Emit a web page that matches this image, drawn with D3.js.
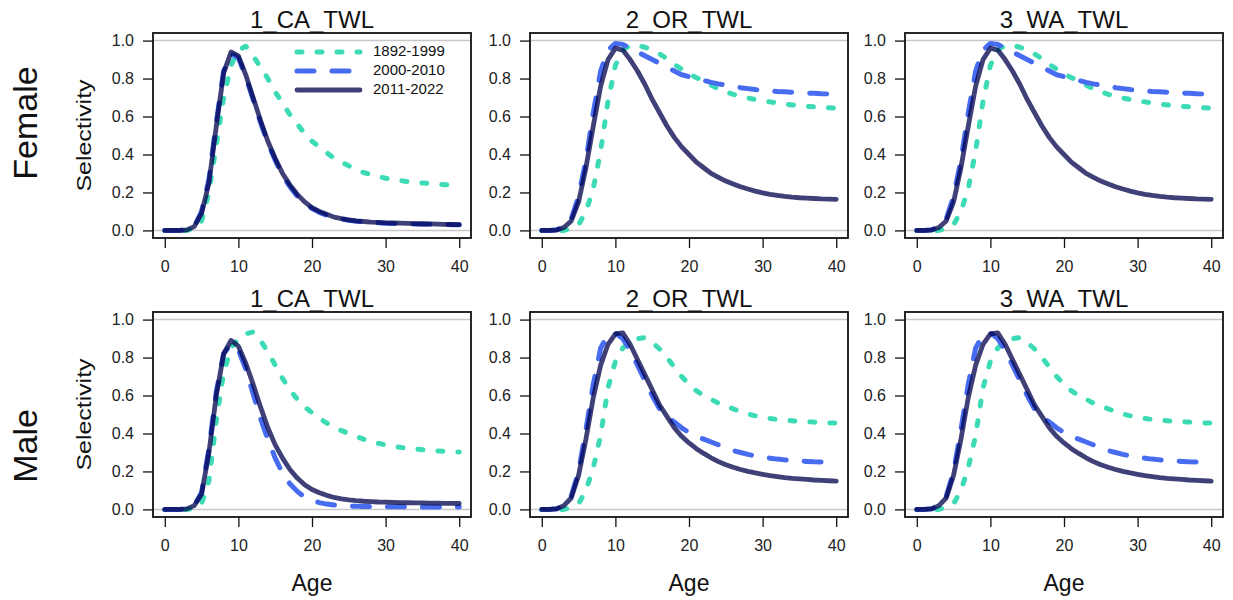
<!DOCTYPE html>
<html>
<head>
<meta charset="utf-8">
<script src="https://cdn.jsdelivr.net/npm/d3@7"></script>
<style>
  body { margin: 0; background: #fff; }
  text { font-family: "Liberation Sans", Arial, sans-serif; }
</style>
</head>
<body>
<svg width="1233" height="600"></svg>
<script>
var ages = d3.range(0, 41);
var periods = ["1892-1999", "2000-2010", "2011-2022"];
var fleets = ["1_CA_TWL", "2_OR_TWL", "3_WA_TWL"];
var sexes = ["Female", "Male"];
var yTicks = [0, 0.2, 0.4, 0.6, 0.8, 1.0];
var xTicks = [0, 10, 20, 30, 40];

// Female selectivity by age 0..40
var caF_1892 = [0,0,0,0,0.01,0.05,0.2,0.45,0.7,0.87,0.95,0.97,0.92,0.86,0.8,0.73,0.67,0.61,0.56,0.51,0.47,0.44,0.41,0.38,0.36,0.34,0.32,0.305,0.295,0.285,0.275,0.268,0.262,0.257,0.253,0.25,0.247,0.244,0.241,0.238,0.235];
var caF_2000 = [0,0,0,0.003,0.02,0.1,0.27,0.57,0.84,0.93,0.91,0.81,0.69,0.57,0.46,0.37,0.29,0.23,0.18,0.145,0.115,0.095,0.08,0.068,0.06,0.053,0.048,0.045,0.042,0.04,0.038,0.037,0.036,0.035,0.034,0.033,0.032,0.031,0.031,0.03,0.03];
var caF_2011 = [0,0,0,0.003,0.02,0.09,0.25,0.55,0.83,0.94,0.92,0.82,0.7,0.58,0.47,0.38,0.3,0.24,0.19,0.15,0.12,0.1,0.085,0.07,0.062,0.055,0.05,0.047,0.044,0.042,0.04,0.039,0.038,0.037,0.036,0.035,0.034,0.033,0.032,0.031,0.03];
var orF_1892 = [0,0,0,0,0.01,0.03,0.1,0.22,0.42,0.68,0.87,0.95,0.975,0.975,0.965,0.95,0.93,0.905,0.875,0.85,0.825,0.805,0.785,0.765,0.745,0.73,0.717,0.705,0.697,0.69,0.683,0.677,0.671,0.666,0.661,0.657,0.654,0.651,0.648,0.646,0.644];
var orF_2000 = [0,0,0.003,0.02,0.06,0.18,0.37,0.62,0.84,0.95,0.985,0.98,0.96,0.94,0.92,0.9,0.88,0.86,0.84,0.82,0.81,0.8,0.79,0.78,0.772,0.765,0.758,0.752,0.747,0.742,0.738,0.735,0.732,0.73,0.728,0.726,0.724,0.722,0.72,0.719,0.718];
var orF_2011 = [0,0,0.002,0.015,0.05,0.15,0.33,0.55,0.76,0.9,0.96,0.95,0.9,0.84,0.77,0.69,0.62,0.55,0.49,0.44,0.4,0.36,0.33,0.3,0.28,0.26,0.245,0.23,0.218,0.207,0.198,0.19,0.184,0.179,0.175,0.172,0.17,0.168,0.166,0.165,0.164];
var waF_1892 = [0,0,0,0,0.01,0.03,0.1,0.22,0.42,0.68,0.87,0.95,0.975,0.975,0.965,0.95,0.93,0.905,0.875,0.85,0.825,0.805,0.785,0.765,0.745,0.73,0.717,0.705,0.697,0.69,0.683,0.677,0.671,0.666,0.661,0.657,0.654,0.651,0.648,0.646,0.644];
var waF_2000 = [0,0,0.003,0.02,0.06,0.18,0.37,0.62,0.84,0.95,0.985,0.98,0.96,0.94,0.92,0.9,0.88,0.86,0.84,0.82,0.81,0.8,0.79,0.78,0.772,0.765,0.758,0.752,0.747,0.742,0.738,0.735,0.732,0.73,0.728,0.726,0.724,0.722,0.72,0.719,0.718];
var waF_2011 = [0,0,0.002,0.015,0.05,0.15,0.33,0.55,0.76,0.9,0.96,0.95,0.9,0.84,0.77,0.69,0.62,0.55,0.49,0.44,0.4,0.36,0.33,0.3,0.28,0.26,0.245,0.23,0.218,0.207,0.198,0.19,0.184,0.179,0.175,0.172,0.17,0.168,0.166,0.165,0.164];

// Male selectivity by age 0..40
var caM_1892 = [0,0,0,0,0.005,0.03,0.15,0.47,0.72,0.85,0.9,0.925,0.935,0.89,0.83,0.76,0.69,0.63,0.58,0.54,0.51,0.48,0.455,0.435,0.415,0.4,0.385,0.37,0.358,0.348,0.34,0.333,0.327,0.322,0.318,0.314,0.311,0.308,0.306,0.304,0.302];
var caM_2000 = [0,0,0,0.003,0.02,0.09,0.32,0.62,0.82,0.87,0.84,0.74,0.61,0.48,0.37,0.27,0.19,0.135,0.095,0.065,0.047,0.036,0.028,0.023,0.02,0.018,0.016,0.015,0.015,0.014,0.014,0.014,0.014,0.013,0.013,0.013,0.013,0.013,0.013,0.013,0.013];
var caM_2011 = [0,0,0,0.003,0.02,0.08,0.3,0.6,0.82,0.89,0.86,0.77,0.66,0.54,0.43,0.34,0.27,0.21,0.165,0.13,0.105,0.088,0.074,0.063,0.055,0.05,0.046,0.043,0.041,0.039,0.038,0.037,0.036,0.035,0.034,0.034,0.033,0.033,0.032,0.032,0.031];
var orM_1892 = [0,0,0,0,0.01,0.03,0.1,0.22,0.39,0.64,0.78,0.85,0.885,0.9,0.905,0.88,0.845,0.8,0.75,0.7,0.66,0.625,0.6,0.58,0.56,0.545,0.53,0.515,0.503,0.493,0.485,0.479,0.474,0.47,0.467,0.464,0.462,0.46,0.458,0.456,0.455];
var orM_2000 = [0,0,0.003,0.02,0.07,0.2,0.42,0.66,0.85,0.92,0.93,0.9,0.84,0.76,0.68,0.6,0.53,0.49,0.46,0.43,0.405,0.385,0.37,0.355,0.34,0.325,0.31,0.3,0.29,0.282,0.275,0.27,0.265,0.261,0.258,0.255,0.253,0.251,0.25,0.249,0.248];
var orM_2011 = [0,0,0.003,0.02,0.06,0.18,0.37,0.59,0.76,0.87,0.925,0.93,0.87,0.79,0.71,0.63,0.55,0.49,0.43,0.385,0.35,0.32,0.295,0.272,0.252,0.235,0.222,0.21,0.2,0.192,0.185,0.178,0.173,0.168,0.164,0.161,0.158,0.155,0.153,0.151,0.149];
var waM_1892 = [0,0,0,0,0.01,0.03,0.1,0.22,0.39,0.64,0.78,0.85,0.885,0.9,0.905,0.88,0.845,0.8,0.75,0.7,0.66,0.625,0.6,0.58,0.56,0.545,0.53,0.515,0.503,0.493,0.485,0.479,0.474,0.47,0.467,0.464,0.462,0.46,0.458,0.456,0.455];
var waM_2000 = [0,0,0.003,0.02,0.07,0.2,0.42,0.66,0.85,0.92,0.93,0.9,0.84,0.76,0.68,0.6,0.53,0.49,0.46,0.43,0.405,0.385,0.37,0.355,0.34,0.325,0.31,0.3,0.29,0.282,0.275,0.27,0.265,0.261,0.258,0.255,0.253,0.251,0.25,0.249,0.248];
var waM_2011 = [0,0,0.003,0.02,0.06,0.18,0.37,0.59,0.76,0.87,0.925,0.93,0.87,0.79,0.71,0.63,0.55,0.49,0.43,0.385,0.35,0.32,0.295,0.272,0.252,0.235,0.222,0.21,0.2,0.192,0.185,0.178,0.173,0.168,0.164,0.161,0.158,0.155,0.153,0.151,0.149];

var panels = [
  [[caF_1892, caF_2000, caF_2011], [orF_1892, orF_2000, orF_2011], [waF_1892, waF_2000, waF_2011]],
  [[caM_1892, caM_2000, caM_2011], [orM_1892, orM_2000, orM_2011], [waM_1892, waM_2000, waM_2011]]
];

var styles = [
  { color: "#3ddbb5", width: 5, dash: "5,15", opacity: 1 },
  { color: "#476cf0", width: 5, dash: "17,18", opacity: 1 },
  { color: "#00004b", width: 4.8, dash: null, opacity: 0.75 }
];

var svg = d3.select("svg"),
  colX = [153, 530, 905],
  rowY = [33, 312],
  sexY = [123, 446],
  pw = 318,
  ph = 205;

var x = d3.scaleLinear().domain([-1.6, 41.6]).range([0, pw]);
var y = d3.scaleLinear().domain([-0.04, 1.04]).range([ph, 0]);

var line = d3.line()
  .x(function(d, i) { return x(ages[i]); })
  .y(function(d) { return y(d); });

sexes.forEach(function(sex, r) {
  // big row label
  svg.append("text")
    .attr("transform", "translate(37," + sexY[r] + ")rotate(-90)")
    .attr("text-anchor", "middle")
    .style("font-size", "34px")
    .style("fill", "#111")
    .text(sex);

  fleets.forEach(function(fleet, c) {
    var g = svg.append("g")
      .attr("transform", "translate(" + colX[c] + "," + rowY[r] + ")");

    // reference lines at 0 and 1
    g.selectAll("line.ref")
      .data([0, 1])
      .enter()
      .append("line")
      .attr("class", "ref")
      .attr("x1", 0)
      .attr("x2", pw)
      .attr("y1", function(d) { return y(d); })
      .attr("y2", function(d) { return y(d); })
      .style("stroke", "#c8c8c8")
      .style("stroke-width", 1.5);

    panels[r][c].forEach(function(vals, k) {
      var s = styles[k];
      g.append("path")
        .datum(vals)
        .attr("d", line)
        .style("fill", "none")
        .style("stroke", s.color)
        .style("stroke-opacity", s.opacity)
        .style("stroke-width", s.width)
        .style("stroke-linecap", "round")
        .style("stroke-linejoin", "round")
        .style("stroke-dasharray", s.dash);
    });

    g.append("rect")
      .attr("width", pw)
      .attr("height", ph)
      .style("fill", "none")
      .style("stroke", "#111")
      .style("stroke-width", 1.8);

    var xAxis = g.append("g")
      .attr("transform", "translate(0," + ph + ")")
      .call(d3.axisBottom(x).tickValues(xTicks).tickSize(10).tickPadding(13));
    var yAxis = g.append("g")
      .call(d3.axisLeft(y).tickValues(yTicks).tickFormat(d3.format(".1f")).tickSize(10).tickPadding(9));

    [xAxis, yAxis].forEach(function(a) {
      a.select(".domain").remove();
      a.selectAll("line").style("stroke", "#111").style("stroke-width", 1.3);
      a.selectAll("text")
        .style("font-family", "Liberation Sans, Arial, sans-serif")
        .style("font-size", "16px")
        .style("fill", "#222");
    });

    g.append("text")
      .attr("x", pw / 2)
      .attr("y", -5)
      .attr("text-anchor", "middle")
      .style("font-size", "24px")
      .style("fill", "#111")
      .text(fleet);

    if (c === 0) {
      g.append("text")
        .attr("transform", "translate(-62," + ph / 2 + ")rotate(-90)")
        .attr("text-anchor", "middle")
        .attr("textLength", 112)
        .attr("lengthAdjust", "spacingAndGlyphs")
        .style("font-size", "20px")
        .style("fill", "#111")
        .text("Selectivity");
    }

    if (r === 1) {
      g.append("text")
        .attr("x", pw / 2)
        .attr("y", ph + 74)
        .attr("text-anchor", "middle")
        .style("font-size", "23px")
        .style("fill", "#111")
        .text("Age");
    }

    // legend in first panel
    if (r === 0 && c === 0) {
      var legend = { x1: 144, x2: 207, y: 19, space: 19, tx: 220 };
      periods.forEach(function(p, k) {
        var s = styles[k];
        g.append("line")
          .attr("x1", legend.x1)
          .attr("x2", legend.x2)
          .attr("y1", legend.y + legend.space * k)
          .attr("y2", legend.y + legend.space * k)
          .style("stroke", s.color)
          .style("stroke-opacity", s.opacity)
          .style("stroke-width", s.width)
          .style("stroke-linecap", "round")
          .style("stroke-dasharray", s.dash);
        g.append("text")
          .attr("x", legend.tx)
          .attr("y", legend.y + legend.space * k)
          .attr("dominant-baseline", "middle")
          .style("font-size", "15px")
          .style("fill", "#111")
          .text(p);
      });
    }
  });
});
</script>
</body>
</html>
